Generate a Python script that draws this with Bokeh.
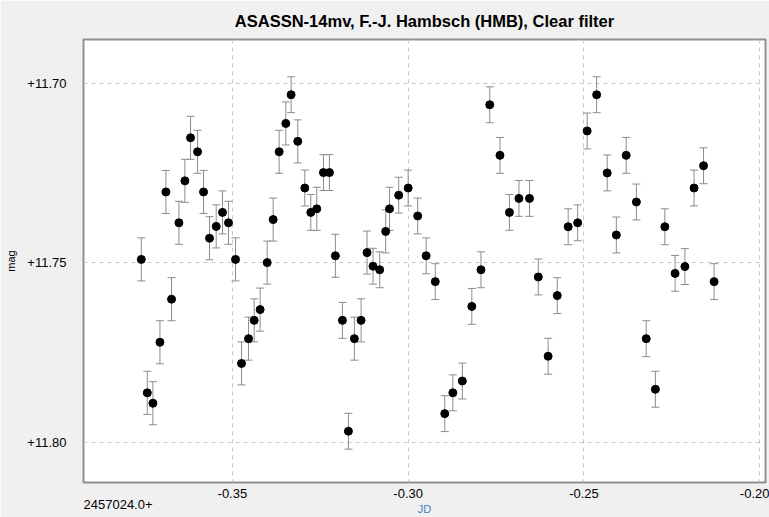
from bokeh.plotting import figure
from bokeh.models import (ColumnDataSource, Range1d, FixedTicker, CustomJSTickFormatter,
                          Whisker, TeeHead, Title)
from bokeh.embed import file_html
from bokeh.resources import INLINE

# ---- data (JD - 2457024.0, magnitude, error) ----
jd = [-0.3759, -0.3742, -0.3726, -0.3706, -0.3689, -0.3673, -0.3652, -0.3635, -0.3619, -0.3599,
      -0.3582, -0.3565, -0.3546, -0.3528, -0.3511, -0.3491, -0.3474, -0.3454, -0.3438, -0.3421,
      -0.3401, -0.3384, -0.3367, -0.3348, -0.3333, -0.3314, -0.3294, -0.3277, -0.3260, -0.3241,
      -0.3224, -0.3207, -0.3187, -0.3170, -0.3153, -0.3134, -0.3117, -0.3100, -0.3081, -0.3064,
      -0.3053, -0.3027, -0.3000, -0.2973, -0.2949, -0.2923, -0.2896, -0.2873, -0.2846, -0.2819,
      -0.2793, -0.2768, -0.2739, -0.2712, -0.2685, -0.2655, -0.2630, -0.2602, -0.2576, -0.2545,
      -0.2518, -0.2491, -0.2464, -0.2434, -0.2408, -0.2380, -0.2351, -0.2323, -0.2297, -0.2270,
      -0.2241, -0.2213, -0.2187, -0.2160, -0.2130]
mag = [11.7490, 11.7862, 11.7891, 11.7721, 11.7302, 11.7601, 11.7388, 11.7271, 11.7151, 11.7190,
       11.7302, 11.7431, 11.7398, 11.7359, 11.7388, 11.7490, 11.7780, 11.7711, 11.7660, 11.7630,
       11.7499, 11.7379, 11.7190, 11.7111, 11.7031, 11.7161, 11.7291, 11.7359, 11.7349, 11.7248,
       11.7248, 11.7480, 11.7660, 11.7969, 11.7711, 11.7660, 11.7471, 11.7509, 11.7519, 11.7412,
       11.7349, 11.7311, 11.7291, 11.7369, 11.7480, 11.7552, 11.7920, 11.7862, 11.7829, 11.7621,
       11.7519, 11.7059, 11.7200, 11.7359, 11.7320, 11.7320, 11.7539, 11.7760, 11.7591, 11.7399,
       11.7388, 11.7132, 11.7031, 11.7249, 11.7422, 11.7200, 11.7330, 11.7711, 11.7852, 11.7399,
       11.7529, 11.7510, 11.7291, 11.7229, 11.7552]
err = [0.006] * 24 + [0.005, 0.006, 0.005, 0.005, 0.006, 0.005, 0.005, 0.006, 0.005, 0.005,
                      0.006, 0.006, 0.006, 0.005, 0.005, 0.006, 0.006] + [0.005] * 34

x_ticks = [-0.35, -0.30, -0.25, -0.20]
y_ticks = [11.70, 11.75, 11.80]

title_text = "ASASSN-14mv, F.-J. Hambsch (HMB), Clear filter"
x_offset_label = "2457024.0+"
x_label = "JD"
y_label = "mag"

FONT = "Liberation Sans"

src = ColumnDataSource(data=dict(
    x=jd, y=mag,
    upper=[m + e for m, e in zip(mag, err)],
    lower=[m - e for m, e in zip(mag, err)],
))

p = figure(width=769, height=517, output_backend="svg", toolbar_location=None,
           x_range=Range1d(-0.39234, -0.19838), y_range=Range1d(11.8112, 11.6877),
           min_border_left=83, min_border_right=4, min_border_top=38, min_border_bottom=35)

p.title.text = title_text
p.title.align = "center"
p.title.text_font = FONT
p.title.text_font_size = "16.5px"
p.title.text_font_style = "bold"
p.title.text_color = "#000000"
p.title.standoff = 19

p.border_fill_color = "#f0f0f0"
p.background_fill_color = "#ffffff"
p.outline_line_color = "#8f8f8f"
p.outline_line_width = 2

# axes
p.xaxis.ticker = FixedTicker(ticks=x_ticks)
p.yaxis.ticker = FixedTicker(ticks=y_ticks)
p.xaxis.formatter = CustomJSTickFormatter(code="return tick.toFixed(2);")
p.yaxis.formatter = CustomJSTickFormatter(code="return '+' + tick.toFixed(2);")
for ax in (p.xaxis, p.yaxis):
    ax.axis_line_color = None
    ax.major_tick_line_color = None
    ax.minor_tick_line_color = None
    ax.major_tick_out = 0
    ax.major_tick_in = 0
    ax.minor_tick_out = 0
    ax.major_label_text_font = FONT
    ax.major_label_text_font_size = "13px"
    ax.major_label_text_color = "#000000"
p.xaxis.major_label_standoff = 6
p.yaxis.major_label_standoff = 17
p.yaxis.axis_label = y_label
p.yaxis.axis_label_text_font = FONT
p.yaxis.axis_label_text_font_size = "11px"
p.yaxis.axis_label_text_font_style = "normal"
p.yaxis.axis_label_text_color = "#000000"
p.yaxis.axis_label_standoff = 7

# texts below the x axis (offset of the JD scale, and the axis name)
p.add_layout(Title(text=x_offset_label, align="left", vertical_align="top", standoff=-2,
                   text_font=FONT, text_font_size="13px", text_font_style="normal",
                   text_color="#000000"), "below")
p.add_layout(Title(text=x_label, align="center", vertical_align="top", standoff=-14,
                   text_font=FONT, text_font_size="11px", text_font_style="normal",
                   text_color="#4a78c8"), "below")

# grid
p.grid.grid_line_color = "#c8c8c8"
p.grid.grid_line_dash = "4 4"
p.grid.grid_line_width = 1

# error bars
whisk = Whisker(base="x", upper="upper", lower="lower", source=src, dimension="height",
                line_color="#8c8c8c", line_width=1,
                upper_head=TeeHead(size=8, line_color="#8c8c8c", line_width=1),
                lower_head=TeeHead(size=8, line_color="#8c8c8c", line_width=1))
p.add_layout(whisk)

p.scatter("x", "y", source=src, size=8, fill_color="#000000", line_color="#000000")

open("out.html", "w").write(file_html(p, INLINE))
